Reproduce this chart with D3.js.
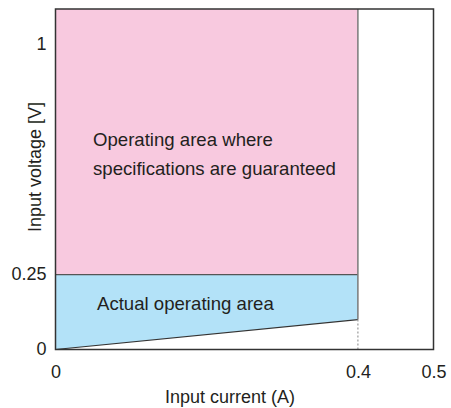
<!DOCTYPE html>
<html>
<head>
<meta charset="utf-8">
<script src="https://cdn.jsdelivr.net/npm/d3@7"></script>
<style>
  body { margin: 0; background: #fff; }
  svg text { font-family: "Liberation Sans", Arial, Helvetica, sans-serif; fill: #231f20; }
</style>
</head>
<body>
<svg id="chart" width="451" height="408"></svg>
<script>
// Axis ticks
const xTicks = [0, 0.4, 0.5];
const xTickLabels = ["0", "0.4", "0.5"];
const yTicks = [0, 0.25, 1];
const yTickLabels = ["0", "0.25", "1"];

// Axis extents
const xMax = 0.5;
const yMax = 1.12;

// Guaranteed operating area: current 0..0.4 A, voltage 0.25..top
const specCurrent = [0, 0.4];
const specVoltage = [0.25, yMax];

// Actual operating area: lower bound rises linearly from 0 V to 0.1 V at 0.4 A
const actualCurrent = [0, 0.4];
const actualLower = [0, 0.1];
const actualUpper = [0.25, 0.25];

const labels = {
  spec: ["Operating area where", "specifications are guaranteed"],
  actual: "Actual operating area",
  x: "Input current (A)",
  y: "Input voltage [V]"
};

const FONT = '"Liberation Sans", Arial, Helvetica, sans-serif';
const svg = d3.select("#chart");
const plotLeft = 55.5, plotRight = 433.5, plotTop = 9, plotBottom = 349.5;

const x = d3.scaleLinear().domain([0, xMax]).range([plotLeft, plotRight]);
// schematic voltage axis: the 0–0.25 band is drawn taller than linear
const y = d3.scaleLinear().domain([0, 0.25, 1, yMax]).range([plotBottom, 274.7, 45, plotTop]);

// Pink region
svg.append("rect")
  .attr("x", x(specCurrent[0]))
  .attr("y", y(specVoltage[1]))
  .attr("width", x(specCurrent[1]) - x(specCurrent[0]))
  .attr("height", y(specVoltage[0]) - y(specVoltage[1]))
  .attr("fill", "#f8c9df");

// Blue region
const pts = actualCurrent.map((c, i) => ({c, lo: actualLower[i], hi: actualUpper[i]}));
const area = d3.area().x(d => x(d.c)).y0(d => y(d.lo)).y1(d => y(d.hi));
svg.append("path").datum(pts).attr("d", area).attr("fill", "#b3e2f8");

// Boundary between regions
svg.append("line")
  .attr("x1", x(0)).attr("x2", x(0.4))
  .attr("y1", y(0.25)).attr("y2", y(0.25))
  .attr("stroke", "#555").attr("stroke-width", 1.2);

// Right edge of the areas
svg.append("line")
  .attr("x1", x(0.4)).attr("x2", x(0.4))
  .attr("y1", y(yMax)).attr("y2", y(actualLower[1]))
  .attr("stroke", "#7a7a7a").attr("stroke-width", 1.5);

// Lower bound line
const line = d3.line().x(d => x(d.c)).y(d => y(d.lo));
svg.append("path").datum(pts).attr("d", line)
  .attr("fill", "none").attr("stroke", "#333").attr("stroke-width", 1.2);

// Dotted drop line at 0.4 A
svg.append("line")
  .attr("x1", x(0.4)).attr("x2", x(0.4))
  .attr("y1", y(actualLower[1])).attr("y2", y(0))
  .attr("stroke", "#999").attr("stroke-width", 1.2)
  .attr("stroke-dasharray", "2,2");

// Frame
svg.append("rect")
  .attr("x", plotLeft).attr("y", plotTop)
  .attr("width", plotRight - plotLeft).attr("height", plotBottom - plotTop)
  .attr("fill", "none").attr("stroke", "#333").attr("stroke-width", 1.5);

// Axes (labels only)
const xAxis = d3.axisBottom(x).tickValues(xTicks)
  .tickFormat((d, i) => xTickLabels[i]).tickSize(0).tickPadding(14);
const gx = svg.append("g").attr("transform", `translate(0,${plotBottom})`).call(xAxis)
  .attr("font-family", FONT).attr("font-size", 18);
gx.select(".domain").remove();
gx.selectAll("text").attr("fill", "#231f20").attr("dy", "0").attr("y", 28);

const yAxis = d3.axisLeft(y).tickValues(yTicks)
  .tickFormat((d, i) => yTickLabels[i]).tickSize(0).tickPadding(9);
const gy = svg.append("g").attr("transform", `translate(${plotLeft},0)`).call(yAxis)
  .attr("font-family", FONT).attr("font-size", 18);
gy.select(".domain").remove();
gy.selectAll("text").attr("fill", "#231f20").attr("dy", "0.25em");

// Region labels
svg.append("text").attr("x", 93).attr("y", 146).attr("font-size", 18.6).text(labels.spec[0]);
svg.append("text").attr("x", 93).attr("y", 175).attr("font-size", 18.6).text(labels.spec[1]);
svg.append("text").attr("x", 97).attr("y", 310).attr("font-size", 18.6).text(labels.actual);

// Axis titles
svg.append("text").attr("x", 230).attr("y", 403)
  .attr("text-anchor", "middle").attr("font-size", 18).text(labels.x);
svg.append("text").attr("transform", "translate(41,167) rotate(-90)")
  .attr("text-anchor", "middle").attr("font-size", 18).text(labels.y);
</script>
</body>
</html>
